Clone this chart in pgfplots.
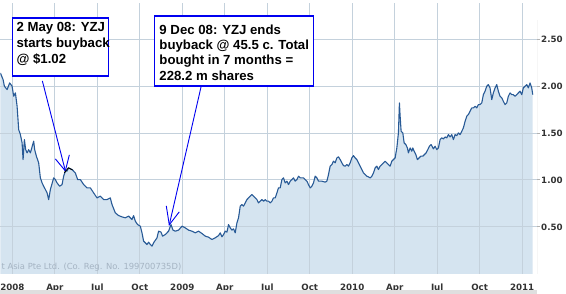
\documentclass[border=0pt]{standalone}
\usepackage{pgfplots}
\pgfplotsset{compat=1.18}
\usepackage{pgfplotstable}
\usepackage{fontspec}
\setmainfont{Liberation Sans}
\newfontfamily\dejavu{DejaVu Sans}
\definecolor{fillblue}{RGB}{213,228,240}
\definecolor{lineblue}{RGB}{40,90,150}
\definecolor{gridc}{RGB}{196,209,220}
\definecolor{labc}{RGB}{51,51,51}
\definecolor{wmark}{RGB}{165,180,195}
\definecolor{boxblue}{RGB}{0,0,240}
\pgfplotstableread{
m v
-0.847 2.138
-0.656 2.067
-0.565 1.997
-0.374 1.961
-0.191 2.032
-0.021 1.997
0.092 1.890
0.212 1.926
0.332 1.784
0.445 1.535
0.565 1.482
0.685 1.394
0.755 1.216
0.847 1.429
0.939 1.322
1.037 1.287
1.150 1.322
1.270 1.287
1.503 1.412
1.574 1.322
1.694 1.252
1.856 1.181
1.976 1.021
2.096 0.968
2.209 0.933
2.449 0.862
2.562 0.790
2.682 0.897
2.915 1.021
3.035 1.003
3.154 0.968
3.338 0.933
3.507 0.950
3.620 1.039
3.740 1.093
3.860 1.093
3.973 1.128
4.213 1.110
4.446 1.074
4.608 1.003
4.798 1.003
5.031 0.950
5.271 0.915
5.504 0.915
5.737 0.862
5.977 0.808
6.210 0.827
6.443 0.790
6.683 0.790
6.916 0.808
7.036 0.737
7.269 0.649
7.502 0.620
7.742 0.606
7.975 0.596
8.207 0.614
8.447 0.578
8.560 0.620
8.680 0.561
8.843 0.524
9.033 0.507
9.153 0.436
9.266 0.348
9.506 0.312
9.619 0.337
9.739 0.312
9.859 0.295
9.972 0.330
10.212 0.383
10.325 0.454
10.494 0.444
10.607 0.401
10.797 0.418
11.030 0.454
11.200 0.524
11.341 0.465
11.503 0.454
11.736 0.465
11.976 0.507
12.209 0.489
12.442 0.465
12.682 0.454
12.915 0.436
13.148 0.454
13.387 0.429
13.620 0.401
13.853 0.390
14.093 0.365
14.326 0.383
14.559 0.407
14.679 0.436
14.799 0.394
14.912 0.418
15.032 0.454
15.152 0.444
15.264 0.524
15.384 0.489
15.504 0.465
15.617 0.479
15.737 0.436
15.857 0.543
15.970 0.596
16.090 0.720
16.210 0.737
16.323 0.720
16.443 0.755
16.563 0.790
16.676 0.808
16.796 0.827
16.916 0.844
17.029 0.827
17.149 0.808
17.269 0.790
17.382 0.755
17.502 0.773
17.622 0.790
17.735 0.773
17.855 0.790
17.975 0.773
18.088 0.773
18.208 0.755
18.327 0.773
18.440 0.808
18.560 0.808
18.680 0.862
18.793 0.915
18.913 0.915
19.033 1.003
19.146 1.021
19.266 0.968
19.386 0.986
19.499 0.950
19.619 0.986
19.739 1.003
19.852 1.021
19.972 0.986
20.092 1.003
20.205 1.039
20.325 1.021
20.558 1.021
20.678 1.003
20.798 0.986
20.911 0.950
21.030 0.915
21.150 0.933
21.263 0.968
21.383 1.039
21.503 1.021
21.616 0.986
21.856 0.986
22.089 0.976
22.209 0.986
22.322 1.056
22.442 1.146
22.562 1.163
22.675 1.199
22.795 1.181
22.915 1.234
23.028 1.245
23.148 1.216
23.268 1.181
23.381 1.152
23.500 1.146
23.620 1.163
23.733 1.146
23.853 1.181
23.973 1.234
24.086 1.258
24.206 1.234
24.326 1.216
24.439 1.181
24.559 1.146
24.679 1.110
24.792 1.074
24.912 1.056
25.032 1.039
25.145 1.032
25.265 1.021
25.385 1.039
25.498 1.074
25.618 1.128
25.738 1.146
25.851 1.110
25.971 1.146
26.091 1.163
26.203 1.181
26.323 1.199
26.443 1.181
26.556 1.163
26.676 1.146
26.796 1.199
26.909 1.216
27.029 1.234
27.149 1.340
27.262 1.500
27.332 1.819
27.382 1.678
27.452 1.518
27.572 1.500
27.664 1.394
27.784 1.376
27.897 1.340
27.967 1.287
28.087 1.340
28.207 1.305
28.278 1.340
28.370 1.305
28.490 1.269
28.603 1.216
28.723 1.234
28.843 1.252
28.984 1.252
29.097 1.269
29.217 1.287
29.337 1.322
29.450 1.358
29.570 1.376
29.732 1.330
29.852 1.358
29.972 1.322
30.085 1.340
30.205 1.429
30.325 1.447
30.438 1.436
30.558 1.457
30.678 1.447
30.791 1.482
30.911 1.457
31.030 1.482
31.143 1.429
31.263 1.482
31.383 1.471
31.496 1.500
31.616 1.482
31.736 1.518
31.849 1.553
31.969 1.624
32.089 1.678
32.202 1.695
32.322 1.731
32.442 1.766
32.555 1.766
32.675 1.784
32.795 1.766
32.908 1.801
33.028 1.801
33.148 1.819
33.260 1.907
33.380 1.944
33.500 1.997
33.613 2.014
33.733 1.979
33.853 1.854
33.966 1.926
34.086 1.979
34.206 2.014
34.319 1.944
34.439 1.890
34.559 1.872
34.672 1.837
34.792 1.801
34.912 1.819
35.025 1.890
35.145 1.926
35.265 1.907
35.378 1.907
35.498 1.890
35.618 1.907
35.731 1.926
35.851 1.944
35.971 1.907
36.083 1.979
36.203 1.997
36.323 2.014
36.436 1.979
36.556 2.032
36.676 1.979
36.747 1.907
}\yzj
\newcommand\tickfont{\fontsize{8.7}{10}\selectfont\dejavu\bfseries}
\begin{document}
\begin{tikzpicture}
\begin{axis}[
  set layers,
  at={(0pt,20pt)}, anchor=south west,
  scale only axis, width=537pt, height=271pt,
  xmin=-0.847, xmax=37.05, ymin=0, ymax=2.883,
  axis line style={draw=none},
  xtick={0,3,6,9,12,15,18,21,24,27,30,33,36},
  xticklabels={2008,Apr,Jul,Oct,2009,Apr,Jul,Oct,2010,Apr,Jul,Oct,2011},
  ytick={0.5,1,1.5,2,2.5},
  yticklabels={0.50,1.00,1.50,2.00,2.50},
  yticklabel pos=right, ytick pos=right,
  xtick style={draw=none},
  ytick style={draw=gray!60, line width=0.8pt},
  tick align=outside, major tick length=3pt,
  grid=major, major grid style={draw=gridc, line width=0.8pt},
  ticklabel style={font=\tickfont, text=labc},
  yticklabel style={anchor=west, inner sep=0pt, xshift=1pt},
  xticklabel style={anchor=base, inner sep=0pt, yshift=-14pt},
]
\addplot[fill=fillblue, draw=none, on layer=axis background] table[x=m,y=v]{\yzj} \closedcycle;
\addplot[draw=lineblue, line width=1.1pt, line join=round] table[x=m,y=v]{\yzj};
\draw[gray!55, line width=0.8pt] (axis cs:37.05,0) -- (axis cs:37.05,2.70);
\end{axis}
\path[use as bounding box] (0,0) rectangle (566pt,291pt);
% watermark
\node[anchor=base west, inner sep=0pt, text=wmark, font=\fontsize{8.4}{9}\selectfont\dejavu] at (1pt,24pt) {t Asia Pte Ltd. (Co. Reg. No. 199700735D)};
% bottom grey bar
\fill[gray!25] (0,0) rectangle (537pt,4pt);
% box 1
\draw[boxblue, line width=1.3pt, fill=white] (12pt,218pt) rectangle (108pt,276pt);
\begin{scope}[every node/.style={anchor=base west, inner sep=0pt, font=\fontsize{13.2}{15}\selectfont\bfseries}]
\node at (16pt,262.5pt) {2 May 08: YZJ};
\node at (16pt,246pt) {starts buyback};
\node at (16pt,230pt) {@ \$1.02};
\end{scope}
% box 2
\draw[boxblue, line width=1.3pt, fill=white] (154pt,208pt) rectangle (313pt,278pt);
\begin{scope}[every node/.style={anchor=base west, inner sep=0pt, font=\fontsize{13.2}{15}\selectfont\bfseries}]
\node at (159pt,259pt) {9 Dec 08: YZJ ends};
\node at (159pt,244pt) {buyback @ 45.5 c. Total};
\node at (159pt,229pt) {bought in 7 months =};
\node at (159pt,213pt) {228.2 m shares};
\end{scope}
% arrows
\begin{scope}[boxblue, line width=0.9pt]
\draw (42pt,213pt) -- (65pt,123pt);
\draw (55pt,135pt) -- (65pt,123pt) -- (69pt,139pt);
\draw (201pt,208pt) -- (169pt,69pt);
\draw (166pt,88pt) -- (169pt,69pt) -- (179pt,82pt);
\end{scope}
\draw[black, line width=0.9pt] (64pt,121pt) -- (68pt,126pt) -- (72pt,124pt);
\end{tikzpicture}
\end{document}
